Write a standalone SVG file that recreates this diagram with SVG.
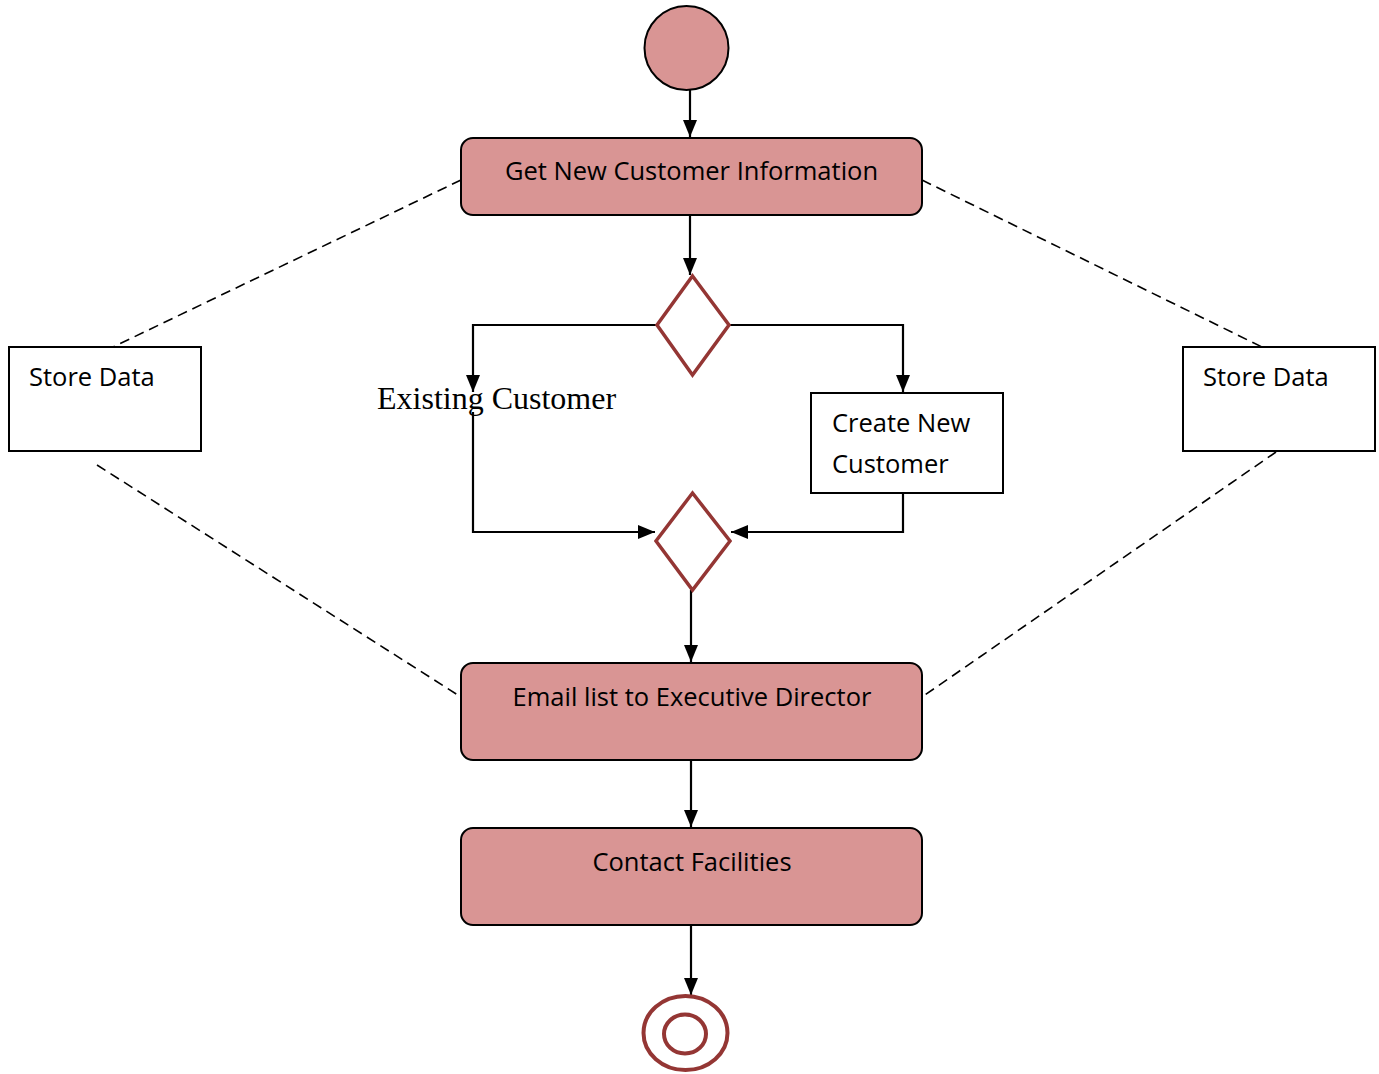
<svg xmlns="http://www.w3.org/2000/svg" width="1379" height="1074" viewBox="0 0 1379 1074">
  <defs>
    <marker id="arrow" markerWidth="18" markerHeight="18" viewBox="0 0 18 18" refX="17" refY="9" orient="auto" markerUnits="userSpaceOnUse">
      <path d="M0,2 L17,9 L0,16 Z" fill="#000"/>
    </marker>
    <style>
      .flow { fill: none; stroke: #000; stroke-width: 2.2; }
      .dash { fill: none; stroke: #000; stroke-width: 1.6; stroke-dasharray: 10 6; }
      .action { fill: #d99594; stroke: #000; stroke-width: 2; }
      .plain { fill: #fff; stroke: #000; stroke-width: 2; }
      .decision { fill: #fff; stroke: #943634; stroke-width: 3.5; }
      .final { fill: none; stroke: #943634; stroke-width: 4; }
      .label { font-family: "Open Sans", "Noto Sans", "Liberation Sans", sans-serif; font-size: 25.5px; fill: #000; }
      .serif { font-family: "Liberation Serif", "DejaVu Serif", serif; font-size: 32px; fill: #000; }
    </style>
  </defs>

  <rect width="1379" height="1074" fill="#fff"/>

  <!-- connectors -->
  <g id="connectors">
    <path class="dash" d="M461,180 L113,347"/>
    <path class="dash" d="M922,180 L1262,347"/>
    <path class="dash" d="M97,465 L461,697"/>
    <path class="dash" d="M1276,452 L922,697"/>

    <path class="flow" d="M690,90 L690,137" marker-end="url(#arrow)"/>
    <path class="flow" d="M690,215 L690,275" marker-end="url(#arrow)"/>
    <path class="flow" d="M657,325 L473,325 L473,392" marker-end="url(#arrow)"/>
    <path class="flow" d="M729,325 L903,325 L903,392" marker-end="url(#arrow)"/>
    <path class="flow" d="M473,412 L473,532 L655,532" marker-end="url(#arrow)"/>
    <path class="flow" d="M903,493 L903,532 L731,532" marker-end="url(#arrow)"/>
    <path class="flow" d="M691,590 L691,662" marker-end="url(#arrow)"/>
    <path class="flow" d="M691,760 L691,827" marker-end="url(#arrow)"/>
    <path class="flow" d="M691,925 L691,995" marker-end="url(#arrow)"/>
  </g>

  <!-- start -->
  <g id="start">
    <circle cx="686.5" cy="48" r="42" fill="#d99594" stroke="#000" stroke-width="2"/>
  </g>

  <g id="get-info">
    <rect class="action" x="461" y="138" width="461" height="77" rx="12"/>
    <text class="label" x="691.5" y="180" text-anchor="middle">Get New Customer Information</text>
  </g>

  <g id="decision-customer">
    <polygon class="decision" points="692.5,276 729,325 692.5,375 657,325"/>
  </g>

  <g id="existing-customer">
    <text class="serif" x="377" y="409">Existing Customer</text>
  </g>

  <g id="create-customer">
    <rect class="plain" x="811" y="393" width="192" height="100"/>
    <text class="label" x="832" y="432">Create New</text>
    <text class="label" x="832" y="473">Customer</text>
  </g>

  <g id="merge">
    <polygon class="decision" points="692.5,493 730,541 692.5,590 656,541"/>
  </g>

  <g id="email-director">
    <rect class="action" x="461" y="663" width="461" height="97" rx="12"/>
    <text class="label" x="692" y="706" text-anchor="middle">Email list to Executive Director</text>
  </g>

  <g id="contact-facilities">
    <rect class="action" x="461" y="828" width="461" height="97" rx="12"/>
    <text class="label" x="692" y="871" text-anchor="middle">Contact Facilities</text>
  </g>

  <g id="store-data-left">
    <rect class="plain" x="9" y="347" width="192" height="104"/>
    <text class="label" x="29" y="386">Store Data</text>
  </g>

  <g id="store-data-right">
    <rect class="plain" x="1183" y="347" width="192" height="104"/>
    <text class="label" x="1203" y="386">Store Data</text>
  </g>

  <!-- end -->
  <g id="end">
    <ellipse class="final" cx="685.5" cy="1033" rx="42" ry="37"/>
    <ellipse class="final" cx="685" cy="1034" rx="21" ry="19.5"/>
  </g>
</svg>
